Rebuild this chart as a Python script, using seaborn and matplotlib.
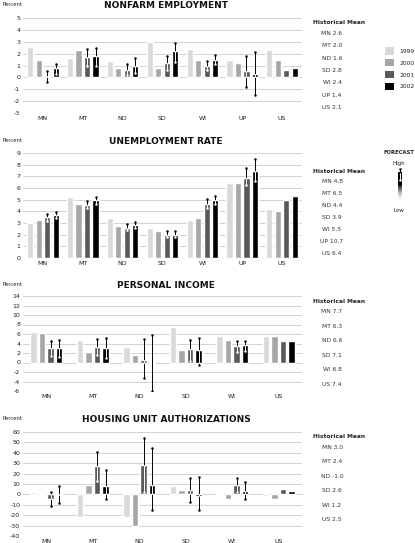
import numpy as np
import pandas as pd
import matplotlib
matplotlib.use("Agg")
import matplotlib.pyplot as plt
import seaborn as sns
from matplotlib.patches import Patch

sns.set_style("white")
plt.rcParams["font.family"] = ["DejaVu Sans"]
plt.rcParams["axes.unicode_minus"] = False

W, H = 415, 543

years = ["1999", "2000", "2001", "2002"]
year_colors = ["#d9d9d9", "#a6a6a6", "#595959", "#000000"]

# Nonfarm employment
nf_regions = ["MN", "MT", "ND", "SD", "WI", "UP", "US"]
nf_1999 = [2.6, 1.6, 1.4, 3.0, 2.4, 1.5, 2.3]
nf_2000 = [1.5, 2.3, 0.8, 0.75, 1.45, 1.25, 1.5]
nf_2001 = [0.1, 1.7, 0.6, 1.25, 1.0, 0.55, 0.65]
nf_2002 = [0.75, 1.8, 1.0, 2.2, 1.5, 0.3, 0.75]
nf_2001_lo = [-0.35, 1.0, 0.2, 0.6, 0.6, -0.8, None]
nf_2001_hi = [0.5, 2.4, 1.1, 1.8, 1.35, 1.8, None]
nf_2002_lo = [0.3, 1.0, 0.4, 1.3, 1.1, -1.5, None]
nf_2002_hi = [1.1, 2.5, 1.6, 2.9, 1.9, 2.15, None]
nf_hist = [2.6, 2.0, 1.6, 2.8, 2.4, 1.4, 2.1]

# Unemployment rate
ur_regions = ["MN", "MT", "ND", "SD", "WI", "UP", "US"]
ur_1999 = [3.0, 5.2, 3.4, 2.6, 3.3, 6.45, 4.2]
ur_2000 = [3.3, 4.6, 2.75, 2.3, 3.4, 6.45, 4.0]
ur_2001 = [3.5, 4.55, 2.6, 2.0, 4.65, 6.85, 4.95]
ur_2002 = [3.7, 4.95, 2.85, 2.0, 5.0, 7.5, 5.35]
ur_2001_lo = [3.2, 4.3, 2.4, 1.8, 4.3, 6.3, None]
ur_2001_hi = [3.75, 4.85, 2.9, 2.3, 5.05, 7.75, None]
ur_2002_lo = [3.4, 4.6, 2.6, 1.8, 4.6, 6.6, None]
ur_2002_hi = [3.95, 5.2, 3.1, 2.3, 5.35, 8.5, None]
ur_hist = [4.8, 6.5, 4.4, 3.9, 5.5, 10.7, 6.4]

# Personal income
pi_regions = ["MN", "MT", "ND", "SD", "WI", "US"]
pi_1999 = [6.35, 4.75, 3.2, 7.5, 5.5, 5.5]
pi_2000 = [6.3, 2.3, 1.6, 2.7, 4.65, 5.5]
pi_2001 = [3.05, 3.2, 0.45, 2.85, 3.4, 4.6]
pi_2002 = [3.0, 3.1, -0.2, 2.55, 3.7, 4.6]
pi_2001_lo = [1.3, 1.5, -3.3, 0.3, 2.3, None]
pi_2001_hi = [4.45, 5.0, 5.0, 4.75, 4.6, None]
pi_2002_lo = [1.1, 1.0, -6.0, -0.5, 2.5, None]
pi_2002_hi = [4.75, 5.15, 5.85, 5.15, 4.6, None]
pi_hist = [7.7, 6.3, 6.6, 7.1, 6.8, 7.4]

# Housing unit authorizations
hu_regions = ["MN", "MT", "ND", "SD", "WI", "US"]
hu_1999 = [1.9, -22.0, -21.8, 8.3, -1.0, -2.0]
hu_2000 = [-1.0, 9.3, -30.8, 4.5, -4.2, -4.8]
hu_2001 = [-4.5, 27.2, 28.2, 4.5, 9.0, 4.8]
hu_2002 = [-1.0, 8.0, 9.3, -1.5, 3.2, 3.5]
hu_2001_lo = [-11.2, 13.0, 2.0, -7.7, 2.0, None]
hu_2001_hi = [2.0, 40.4, 54.2, 15.7, 15.7, None]
hu_2002_lo = [-8.0, -4.8, -14.7, -14.7, -4.5, None]
hu_2002_hi = [8.0, 23.4, 44.5, 17.0, 12.2, None]
hu_hist = [3.0, 2.4, -1.0, 2.6, 1.2, 2.5]

fig = plt.figure(figsize=(W / 100, H / 100), dpi=100)

AX_L, AX_R = 23, 302


def fx(px):
    return px / W


def fy(py):
    return 1 - py / H


def draw_panel(top, bottom, ylo, yhi, step, title, title_y, regions, vals,
               lows, highs, hist, hist_y, hist_step):
    ax = fig.add_axes([fx(AX_L), fy(bottom), (AX_R - AX_L) / W, (bottom - top) / H])
    df = pd.concat([pd.DataFrame({"region": regions, "year": y, "value": v})
                    for y, v in zip(years, vals)])
    # same bar pitch in pixels on every panel
    group_px = (AX_R - AX_L) / len(regions)
    sns.barplot(data=df, x="region", y="value", hue="year", order=regions,
                hue_order=years, palette=year_colors, saturation=1,
                width=34 / group_px, gap=0.28, legend=False, ax=ax)

    # forecast ranges on 2001 and 2002 bars
    for cont, lo_list, hi_list in zip(ax.containers[2:], lows, highs):
        for bar, lo, hi in zip(cont, lo_list, hi_list):
            if lo is None:
                continue
            x = bar.get_x() + bar.get_width() / 2
            b0, b1 = sorted([bar.get_y(), bar.get_y() + bar.get_height()])
            ax.plot([x, x], [lo, hi], color="black", lw=0.7, zorder=4)
            s0, s1 = max(lo, b0), min(hi, b1)
            if s1 > s0:
                ax.plot([x, x], [s0, s1], color="white", lw=0.7, zorder=5)
            for end in (lo, hi):
                inside = b0 < end < b1
                ax.plot(x, end, "o", ms=1.8, mew=0,
                        color="white" if inside else "black", zorder=6)

    ax.set_xlim(-0.5, len(regions) - 0.5)
    ax.set_ylim(ylo, yhi)
    ax.set_yticks(np.arange(ylo, yhi + step / 2, step))
    ax.yaxis.grid(True, color="#cccccc", lw=0.6)
    ax.set_axisbelow(True)
    sns.despine(ax=ax, left=True, bottom=True)
    ax.tick_params(length=0, labelsize=4.5, pad=2, colors="#222222")
    ax.set_xlabel("")
    ax.set_ylabel("")

    fig.text(fx(166), fy(title_y), title, ha="center", va="center",
             fontsize=6.5, fontweight="bold", color="#111111")
    fig.text(fx(2), fy(title_y - 1), "Percent", ha="left", va="center",
             fontsize=3.8, color="#222222")

    fig.text(fx(313), fy(hist_y - 10.5), "Historical Mean", ha="left",
             va="center", fontsize=4.2, fontweight="bold", color="#222222")
    for i, (r, v) in enumerate(zip(regions, hist)):
        fig.text(fx(332), fy(hist_y + i * hist_step), f"{r} {v:.1f}",
                 ha="center", va="center", fontsize=4.3, color="#333333")
    return ax


draw_panel(18, 113, -3, 5, 1, "NONFARM EMPLOYMENT", 6, nf_regions,
           [nf_1999, nf_2000, nf_2001, nf_2002],
           [nf_2001_lo, nf_2002_lo], [nf_2001_hi, nf_2002_hi],
           nf_hist, 33.3, 12.4)
draw_panel(153, 258, 0, 9, 1, "UNEMPLOYMENT RATE", 141, ur_regions,
           [ur_1999, ur_2000, ur_2001, ur_2002],
           [ur_2001_lo, ur_2002_lo], [ur_2001_hi, ur_2002_hi],
           ur_hist, 181.7, 11.9)
draw_panel(296, 391, -6, 14, 2, "PERSONAL INCOME", 285, pi_regions,
           [pi_1999, pi_2000, pi_2001, pi_2002],
           [pi_2001_lo, pi_2002_lo], [pi_2001_hi, pi_2002_hi],
           pi_hist, 311.7, 14.5)
draw_panel(432, 536, -40, 60, 10, "HOUSING UNIT AUTHORIZATIONS", 419, hu_regions,
           [hu_1999, hu_2000, hu_2001, hu_2002],
           [hu_2001_lo, hu_2002_lo], [hu_2001_hi, hu_2002_hi],
           hu_hist, 447.3, 14.5)

# year legend
handles = [Patch(facecolor=c, edgecolor="none") for c in year_colors]
fig.legend(handles, years, loc="upper left", bbox_to_anchor=(fx(383), fy(45)),
           frameon=False, fontsize=4.3, handlelength=1.5, handleheight=1.5,
           labelspacing=0.75, handletextpad=0.9, borderaxespad=0)

# forecast key
fig.text(fx(399), fy(152), "FORECAST", ha="center", va="center",
         fontsize=3.8, fontweight="bold", color="#222222")
fig.text(fx(399), fy(163), "High", ha="center", va="center",
         fontsize=4.0, color="#222222")
fig.text(fx(399), fy(211), "Low", ha="center", va="center",
         fontsize=4.0, color="#222222")
kax = fig.add_axes([fx(393), fy(204), 12 / W, 38 / H])
shade = np.clip((np.linspace(0, 1, 120) - 0.45) / 0.55, 0, 1) ** 0.8
kax.imshow((1 - shade).reshape(-1, 1), cmap="Greys", aspect="auto",
           extent=(397.5, 401.5, 200, 172), vmin=0, vmax=1, origin="upper")
kax.plot([399.5, 399.5], [169, 180], color="black", lw=0.7)
kax.plot([399.5, 399.5], [173, 180], color="white", lw=0.7)
kax.plot(399.5, 169, "o", ms=1.8, mew=0, color="black")
kax.plot(399.5, 180, "o", ms=1.8, mew=0, color="white")
kax.set_xlim(393, 405)
kax.set_ylim(204, 166)
kax.axis("off")

fig.savefig("out.png", dpi=100)
